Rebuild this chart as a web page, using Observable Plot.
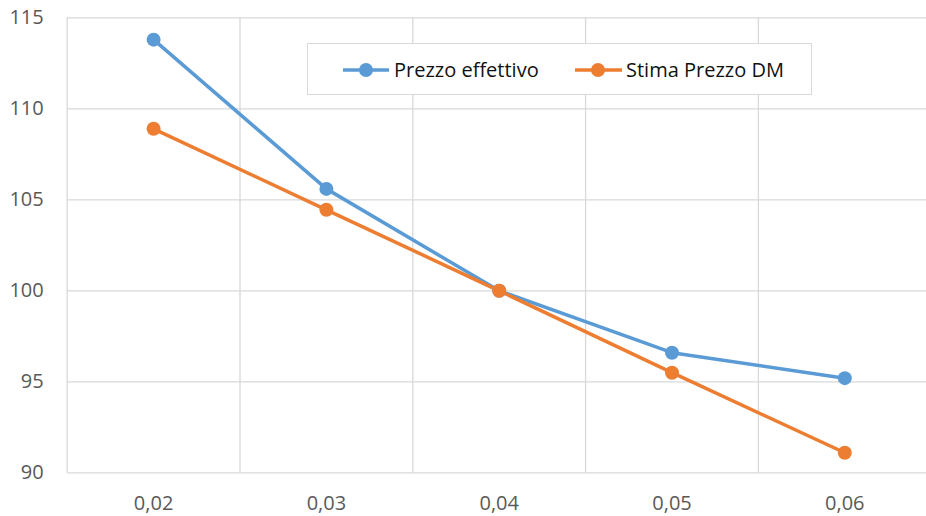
<!DOCTYPE html>
<html>
<head>
<meta charset="utf-8">
<script src="https://cdn.jsdelivr.net/npm/d3@7"></script>
<script src="https://cdn.jsdelivr.net/npm/@observablehq/plot@0.6"></script>
<style>
  html, body { margin: 0; padding: 0; background: #fff; overflow: hidden; }
  #wrap { position: relative; width: 926px; height: 516px; overflow: hidden; font-family: "Open Sans", sans-serif; }
  #legend {
    position: absolute; left: 307px; top: 43px; width: 505px; height: 52px;
    box-sizing: border-box; border: 1.3px solid #d9d9d9; background: #fff;
  }
  #legend svg { position: absolute; left: 0; top: 0; }
</style>
</head>
<body>
<div id="wrap"><div id="chart"></div><div id="legend"></div></div>
<script>
const categories = [0.02, 0.03, 0.04, 0.05, 0.06];
const xTickLabels = ["0,02", "0,03", "0,04", "0,05", "0,06"];
const xBoundaries = [0.015, 0.025, 0.035, 0.045, 0.055, 0.065];
const yTicks = [90, 95, 100, 105, 110, 115];
const prezzoEffettivo = [113.8, 105.6, 100, 96.6, 95.2];
const stimaPrezzoDM = [108.9, 104.45, 100, 95.5, 91.1];
const seriesNames = ["Prezzo effettivo", "Stima Prezzo DM"];
const seriesColors = ["#5B9BD5", "#ED7D31"];

const data = [];
categories.forEach((c, i) => {
  data.push({x: c, y: prezzoEffettivo[i], s: seriesNames[0]});
  data.push({x: c, y: stimaPrezzoDM[i], s: seriesNames[1]});
});

const chart = Plot.plot({
  width: 926,
  height: 516,
  marginLeft: 66.7,
  marginTop: 17.3,
  marginBottom: 43.7,
  marginRight: 0,
  style: {fontFamily: "Open Sans", fontSize: "20px", background: "#fff", overflow: "hidden"},
  x: {type: "linear", domain: [0.015, 0.065], range: [66.7, 930.7]},
  y: {domain: [90, 115], range: [472.3, 17.3]},
  color: {domain: seriesNames, range: seriesColors},
  marks: [
    Plot.gridY(yTicks, {stroke: "#d9d9d9", strokeOpacity: 1, strokeWidth: 1.3}),
    Plot.gridX(xBoundaries, {stroke: "#d9d9d9", strokeOpacity: 1, strokeWidth: 1.3}),
    Plot.axisY(yTicks, {tickSize: 0, tickPadding: 23.5, fill: "#595959", fontSize: 20, label: null}),
    Plot.axisX(categories, {tickSize: 0, tickPadding: 22.5, fill: "#595959", fontSize: 20, label: null,
      tickFormat: (d) => xTickLabels[categories.indexOf(d)]}),
    Plot.line(data, {x: "x", y: "y", z: "s", stroke: "s", strokeWidth: 3.5, strokeLinecap: "round", strokeLinejoin: "round"}),
    Plot.dot(data, {x: "x", y: "y", fill: "s", r: 7})
  ]
});
document.getElementById("chart").appendChild(chart);

// Legend inside the plot area
const lg = d3.select("#legend").append("svg").attr("width", 505).attr("height", 52);
const items = [
  {name: seriesNames[0], color: seriesColors[0], x0: 35, x1: 81, cx: 58, tx: 86},
  {name: seriesNames[1], color: seriesColors[1], x0: 267, x1: 314, cx: 290, tx: 318}
];
items.forEach(it => {
  lg.append("line").attr("x1", it.x0).attr("x2", it.x1).attr("y1", 26).attr("y2", 26)
    .attr("stroke", it.color).attr("stroke-width", 3.5);
  lg.append("circle").attr("cx", it.cx).attr("cy", 26).attr("r", 7).attr("fill", it.color);
  lg.append("text").attr("x", it.tx).attr("y", 26).attr("dy", "0.35em")
    .attr("font-family", "Open Sans").attr("font-size", 20).attr("fill", "#111")
    .text(it.name);
});
</script>
</body>
</html>
